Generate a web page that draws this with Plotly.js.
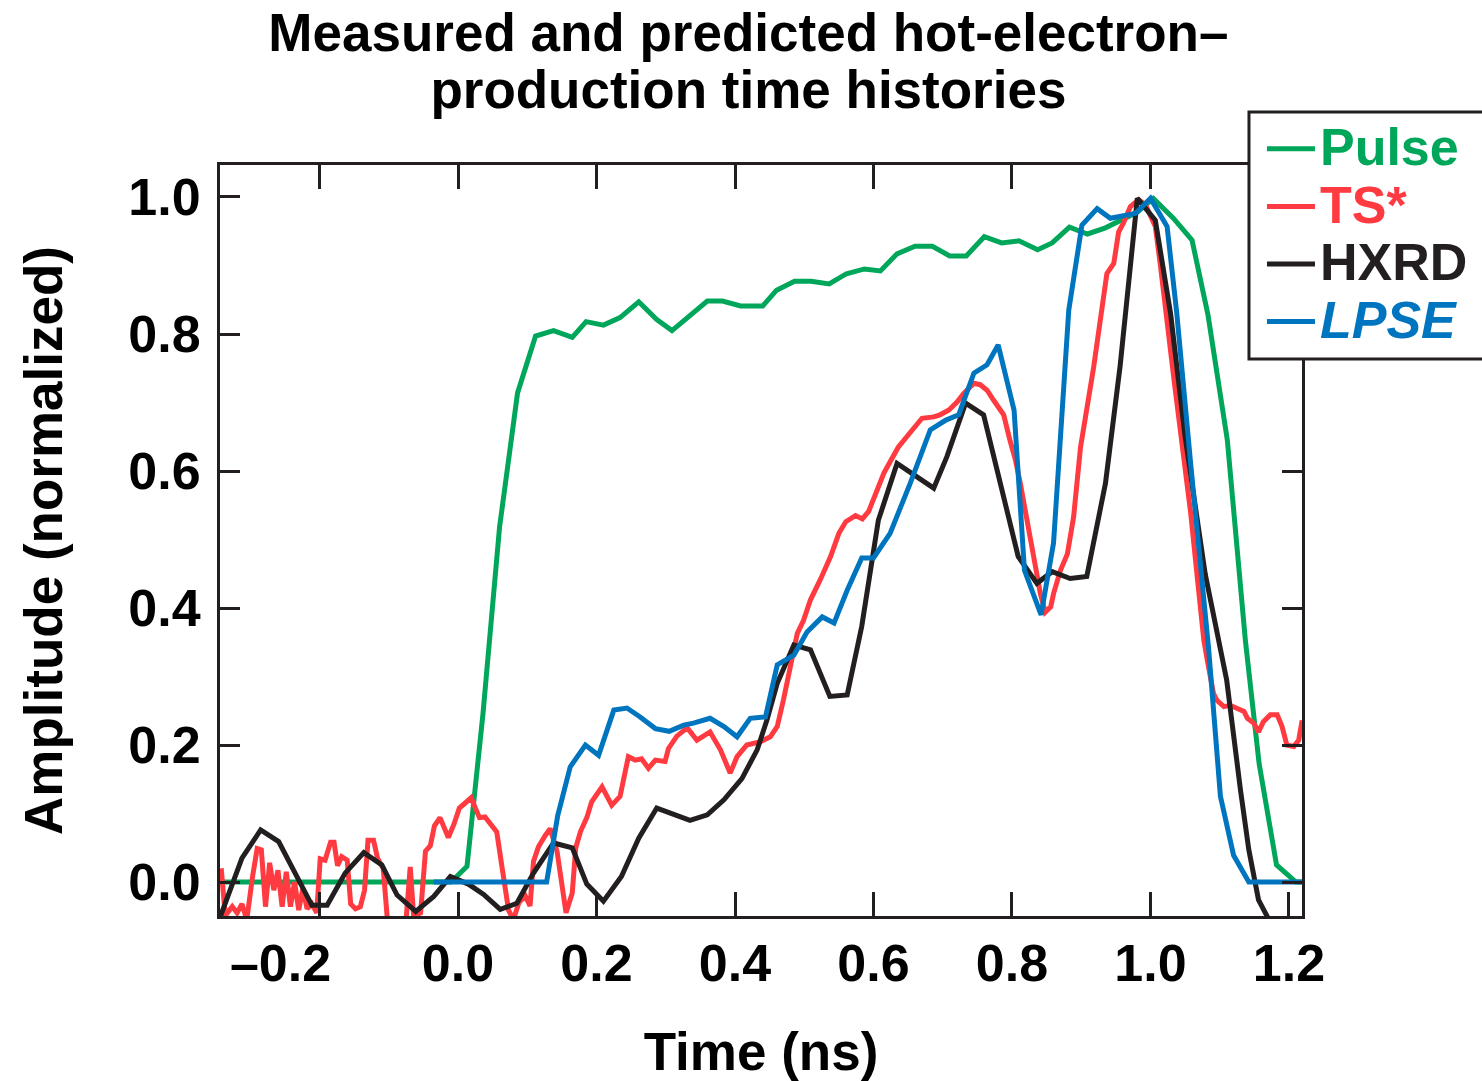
<!DOCTYPE html>
<html>
<head>
<meta charset="utf-8">
<script src="https://cdn.plot.ly/plotly-3.0.1.min.js"></script>
<style>html,body{margin:0;padding:0;background:#fff;}#chart{width:1482px;height:1081px;}</style>
</head>
<body>
<div id="chart"></div>
<script>
// ---- Data ----
const seriesNames = ["Pulse", "TS*", "HXRD", "LPSE"];

const pulseX = [-0.343, -0.01, 0.013, 0.036, 0.060, 0.086, 0.112, 0.138, 0.165, 0.185, 0.21, 0.234, 0.261, 0.287, 0.309, 0.335, 0.36, 0.382, 0.408, 0.44, 0.46, 0.486, 0.51, 0.536, 0.561, 0.587, 0.61, 0.634, 0.66, 0.685, 0.71, 0.734, 0.76, 0.785, 0.81, 0.837, 0.858, 0.883, 0.909, 0.935, 0.959, 0.981, 1.004, 1.033, 1.06, 1.083, 1.111, 1.137, 1.157, 1.182, 1.21, 1.219];
const pulseY = [0, 0, 0.023, 0.245, 0.518, 0.714, 0.797, 0.805, 0.795, 0.818, 0.813, 0.824, 0.847, 0.821, 0.805, 0.828, 0.848, 0.848, 0.841, 0.841, 0.864, 0.877, 0.877, 0.873, 0.888, 0.895, 0.892, 0.917, 0.928, 0.928, 0.914, 0.914, 0.942, 0.933, 0.936, 0.923, 0.933, 0.956, 0.946, 0.955, 0.966, 0.978, 0.998, 0.969, 0.937, 0.828, 0.645, 0.353, 0.172, 0.025, 0, 0];

const tsX = [-0.342, -0.336, -0.326, -0.319, -0.312, -0.305, -0.297, -0.290, -0.284, -0.278, -0.272, -0.266, -0.260, -0.254, -0.248, -0.242, -0.236, -0.230, -0.224, -0.218, -0.211, -0.204, -0.199, -0.192, -0.184, -0.179, -0.174, -0.168, -0.160, -0.155, -0.148, -0.141, -0.135, -0.130, -0.122, -0.116, -0.108, -0.102, -0.090, -0.075, -0.069, -0.064, -0.054, -0.047, -0.040, -0.034, -0.026, -0.014, -0.006, 0.002, 0.010, 0.019, 0.025, 0.031, 0.039, 0.049, 0.056, 0.064, 0.073, 0.080, 0.088, 0.097, 0.104, 0.109, 0.116, 0.126, 0.133, 0.143, 0.150, 0.156, 0.165, 0.170, 0.177, 0.186, 0.193, 0.208, 0.222, 0.234, 0.246, 0.256, 0.265, 0.275, 0.285, 0.299, 0.304, 0.316, 0.331, 0.345, 0.364, 0.379, 0.393, 0.403, 0.417, 0.437, 0.451, 0.461, 0.470, 0.480, 0.490, 0.499, 0.509, 0.523, 0.538, 0.550, 0.560, 0.574, 0.584, 0.593, 0.600, 0.605, 0.615, 0.627, 0.636, 0.648, 0.660, 0.670, 0.687, 0.696, 0.709, 0.721, 0.730, 0.745, 0.754, 0.764, 0.773, 0.788, 0.797, 0.805, 0.812, 0.821, 0.829, 0.834, 0.841, 0.848, 0.856, 0.860, 0.870, 0.880, 0.889, 0.899, 0.918, 0.927, 0.937, 0.947, 0.954, 0.961, 0.971, 0.983, 0.993, 1.007, 1.014, 1.034, 1.046, 1.058, 1.068, 1.077, 1.082, 1.091, 1.096, 1.106, 1.115, 1.135, 1.140, 1.149, 1.156, 1.163, 1.173, 1.183, 1.190, 1.197, 1.207, 1.214, 1.219];
const tsY = [0.02, -0.049, -0.036, -0.045, -0.032, -0.055, 0.006, 0.049, 0.047, -0.036, 0.028, -0.012, 0.017, -0.036, 0.015, -0.036, 0.0, -0.041, -0.009, -0.039, -0.032, -0.045, 0.034, 0.032, 0.058, 0.058, 0.024, 0.037, 0.032, -0.032, -0.039, -0.036, -0.012, 0.061, 0.061, 0.034, 0.02, -0.055, -0.06, -0.055, 0.022, -0.05, -0.045, 0.045, 0.053, 0.082, 0.094, 0.065, 0.084, 0.108, 0.115, 0.123, 0.108, 0.094, 0.095, 0.082, 0.073, 0.019, -0.041, -0.055, -0.03, -0.02, -0.035, 0.03, 0.051, 0.068, 0.078, 0.045, -0.004, -0.045, -0.016, 0.05, 0.074, 0.094, 0.117, 0.139, 0.112, 0.125, 0.183, 0.178, 0.18, 0.166, 0.178, 0.176, 0.195, 0.213, 0.225, 0.207, 0.219, 0.193, 0.159, 0.183, 0.2, 0.205, 0.212, 0.227, 0.266, 0.314, 0.363, 0.382, 0.412, 0.441, 0.475, 0.509, 0.526, 0.535, 0.53, 0.541, 0.558, 0.572, 0.597, 0.619, 0.635, 0.65, 0.665, 0.677, 0.679, 0.682, 0.689, 0.701, 0.713, 0.728, 0.726, 0.718, 0.704, 0.682, 0.645, 0.616, 0.582, 0.528, 0.49, 0.46, 0.421, 0.394, 0.402, 0.421, 0.455, 0.479, 0.533, 0.635, 0.752, 0.82, 0.888, 0.903, 0.949, 0.962, 0.986, 0.996, 0.988, 0.957, 0.903, 0.733, 0.636, 0.539, 0.441, 0.353, 0.324, 0.275, 0.265, 0.256, 0.258, 0.249, 0.239, 0.232, 0.219, 0.234, 0.244, 0.244, 0.227, 0.2, 0.198, 0.207, 0.236];

const hxrdX = [-0.343, -0.312, -0.285, -0.259, -0.211, -0.189, -0.163, -0.136, -0.110, -0.088, -0.061, -0.035, -0.011, 0.015, 0.037, 0.061, 0.085, 0.109, 0.138, 0.165, 0.186, 0.210, 0.236, 0.261, 0.287, 0.311, 0.335, 0.360, 0.384, 0.410, 0.432, 0.446, 0.461, 0.485, 0.509, 0.537, 0.562, 0.583, 0.607, 0.634, 0.660, 0.687, 0.706, 0.733, 0.759, 0.783, 0.809, 0.836, 0.858, 0.884, 0.908, 0.935, 0.956, 0.981, 1.007, 1.029, 1.050, 1.079, 1.110, 1.130, 1.142, 1.156, 1.170];
const hxrdY = [-0.05, 0.035, 0.076, 0.059, -0.034, -0.034, 0.013, 0.043, 0.025, -0.019, -0.043, -0.021, 0.008, -0.003, -0.018, -0.04, -0.031, 0.013, 0.057, 0.05, -0.003, -0.028, 0.008, 0.064, 0.108, 0.099, 0.09, 0.098, 0.12, 0.151, 0.193, 0.236, 0.29, 0.346, 0.339, 0.271, 0.273, 0.373, 0.528, 0.611, 0.594, 0.575, 0.621, 0.699, 0.682, 0.582, 0.475, 0.436, 0.453, 0.443, 0.446, 0.582, 0.752, 0.998, 0.966, 0.83, 0.65, 0.45, 0.295, 0.134, 0.047, -0.026, -0.053];

const lpseX = [-0.035, 0.128, 0.144, 0.162, 0.184, 0.203, 0.225, 0.244, 0.263, 0.285, 0.305, 0.326, 0.340, 0.364, 0.384, 0.403, 0.422, 0.444, 0.461, 0.485, 0.504, 0.526, 0.543, 0.562, 0.583, 0.600, 0.624, 0.653, 0.682, 0.704, 0.723, 0.745, 0.764, 0.780, 0.803, 0.818, 0.842, 0.860, 0.882, 0.901, 0.923, 0.942, 0.978, 1.000, 1.024, 1.038, 1.058, 1.084, 1.101, 1.120, 1.142, 1.219];
const lpseY = [0, 0, 0.097, 0.168, 0.2, 0.185, 0.251, 0.254, 0.241, 0.224, 0.22, 0.229, 0.232, 0.239, 0.227, 0.212, 0.239, 0.241, 0.317, 0.331, 0.365, 0.387, 0.378, 0.426, 0.473, 0.473, 0.509, 0.582, 0.66, 0.674, 0.682, 0.743, 0.755, 0.784, 0.689, 0.455, 0.39, 0.495, 0.835, 0.959, 0.983, 0.969, 0.976, 0.998, 0.957, 0.83, 0.611, 0.34, 0.125, 0.039, 0, 0];

const xTickVals = [-0.2, 0.0, 0.2, 0.4, 0.6, 0.8, 1.0, 1.2];
const xTickText = ["\u20130.2\u2002\u2002\u2002", "0.0", "0.2", "0.4", "0.6", "0.8", "1.0", "1.2"];
const yTickVals = [0.0, 0.2, 0.4, 0.6, 0.8, 1.0];
const yTickText = ["0.0", "0.2", "0.4", "0.6", "0.8", "1.0"];

const titleLines = ["Measured and predicted hot-electron\u2013", "production time histories"];
const xTitle = "Time (ns)";
const yTitle = "Amplitude (normalized)";

// ---- Styling ----
const colors = ["#00A65A", "#FF3A40", "#231F20", "#0075BF"];
const FONT = "Liberation Sans, Arial, Helvetica, sans-serif";
const AX = "#231F20";

function legendName(name, color, italic) {
  const t = italic ? "<i>" + name + "</i>" : name;
  return '<span style="color:' + color + ';font-size:52px">' + t + '</span>';
}

const xs = [pulseX, tsX, hxrdX, lpseX];
const ys = [pulseY, tsY, hxrdY, lpseY];
const traces = seriesNames.map((n, i) => ({
  type: "scatter",
  mode: "lines",
  x: xs[i],
  y: ys[i],
  name: legendName(n, colors[i], n === "LPSE"),
  line: { color: colors[i], width: 5 },
  hoverinfo: "skip"
}));

const titleHtml = titleLines.map(l => '<span style="font-size:53px">' + l + '</span>').join("<br>");

const layout = {
  width: 1482,
  height: 1081,
  paper_bgcolor: "#ffffff",
  plot_bgcolor: "#ffffff",
  font: { family: FONT, color: "#000000", weight: "bold" },
  margin: { l: 220, r: 180, t: 165, b: 165, autoexpand: false },
  title: {
    text: titleHtml,
    font: { family: FONT, size: 44, color: "#000000", weight: "bold" },
    x: 0.505, xanchor: "center",
    y: 0.9526, yref: "container", yanchor: "top"
  },
  showlegend: true,
  legend: {
    x: 0.963, xanchor: "left", xref: "paper",
    y: 1.0666, yanchor: "top", yref: "paper",
    bgcolor: "rgba(0,0,0,0)",
    borderwidth: 0,
    font: { family: FONT, size: 42, color: "#000000", weight: "bold" },
    itemwidth: 48,
    tracegroupgap: 0
  },
  shapes: [{
    type: "rect", xref: "paper", yref: "paper",
    x0: 0.951, x1: 1.25, y0: 0.7417, y1: 1.0706,
    line: { color: AX, width: 3 }, fillcolor: "#ffffff", layer: "above"
  }],
  xaxis: {
    range: [-0.3437, 1.2188],
    showgrid: false, zeroline: false,
    showline: true, linecolor: AX, linewidth: 3,
    mirror: "ticks",
    ticks: "inside", ticklen: 24, tickwidth: 3, tickcolor: AX,
    tickmode: "array", tickvals: xTickVals, ticktext: xTickText,
    tickfont: { family: FONT, size: 52, color: "#000000", weight: "bold" },
    ticklabelstandoff: 0,
    title: { text: xTitle, font: { family: FONT, size: 53, color: "#000000", weight: "bold" }, standoff: 52 }
  },
  yaxis: {
    range: [-0.0496, 1.0467],
    showgrid: false, zeroline: false,
    showline: true, linecolor: AX, linewidth: 3,
    mirror: "ticks",
    ticks: "inside", ticklen: 20, tickwidth: 3, tickcolor: AX,
    tickmode: "array", tickvals: yTickVals, ticktext: yTickText,
    tickfont: { family: FONT, size: 52, color: "#000000", weight: "bold" },
    ticklabelstandoff: 6,
    title: { text: yTitle, font: { family: FONT, size: 53, color: "#000000", weight: "bold" }, standoff: 49 }
  }
};

Plotly.newPlot("chart", traces, layout, { staticPlot: true, displayModeBar: false });
</script>
</body>
</html>
